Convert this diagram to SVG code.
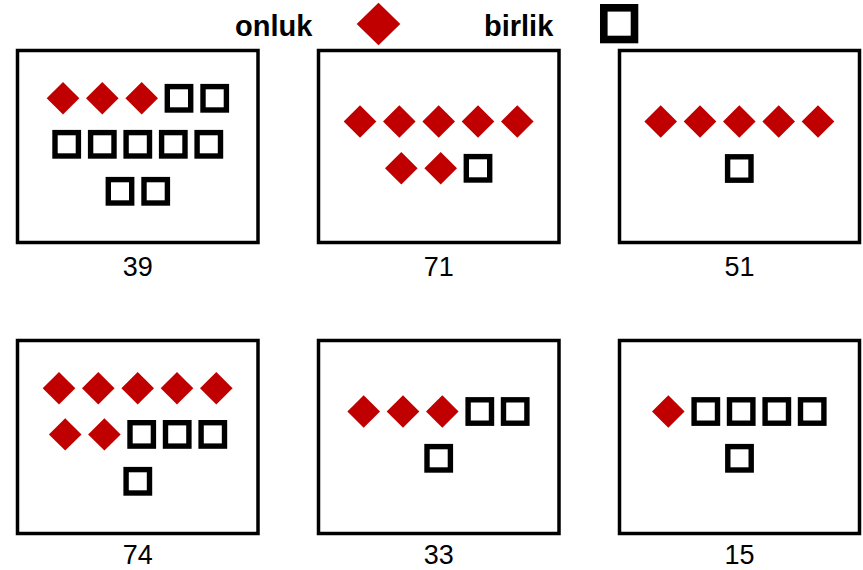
<svg xmlns="http://www.w3.org/2000/svg" xmlns:xlink="http://www.w3.org/1999/xlink" width="863" height="570" viewBox="0 0 863 570">
  <style>
    .box { fill: #ffffff; stroke: #000000; stroke-width: 3.5; }
    .num { font-family: "Liberation Sans", Arial, sans-serif; font-size: 27px; fill: #000000; text-anchor: middle; }
    .head { font-family: "Liberation Sans", Arial, sans-serif; font-size: 29px; font-weight: bold; fill: #000000; }
  </style>
  <defs>
    <polygon id="d" points="0,-16.2 16.3,0 0,16.2 -16.3,0" fill="#C00000"/>
    <rect id="s" x="-11.7" y="-11.7" width="23.4" height="23.4" fill="none" stroke="#000000" stroke-width="5.4"/>
  </defs>
  <rect width="863" height="570" fill="#ffffff"/>

  <g id="legend">
    <text class="head" x="235" y="36">onluk</text>
    <polygon points="378.5,2.7 400.3,24 378.5,45.3 356.7,24" fill="#C00000"/>
    <text class="head" x="484" y="36">birlik</text>
    <rect x="603.8" y="7.8" width="30.7" height="31.7" fill="none" stroke="#000000" stroke-width="7.6"/>
  </g>

  <g id="card-39">
    <rect class="box" x="17.5" y="50.5" width="240.5" height="192"/>
    <use xlink:href="#d" x="63" y="98.3"/>
    <use xlink:href="#d" x="102.3" y="98.3"/>
    <use xlink:href="#d" x="141.7" y="98.3"/>
    <use xlink:href="#s" x="179" y="98.3"/>
    <use xlink:href="#s" x="214.7" y="98.3"/>
    <use xlink:href="#s" x="66.7" y="144.3"/>
    <use xlink:href="#s" x="102.3" y="144.3"/>
    <use xlink:href="#s" x="137.8" y="144.3"/>
    <use xlink:href="#s" x="173.3" y="144.3"/>
    <use xlink:href="#s" x="208.8" y="144.3"/>
    <use xlink:href="#s" x="120" y="191.3"/>
    <use xlink:href="#s" x="155.7" y="191.3"/>
    <text class="num" x="137.8" y="276">39</text>
  </g>

  <g id="card-71">
    <rect class="box" x="318.5" y="50.5" width="240.5" height="192"/>
    <use xlink:href="#d" x="360" y="121.5"/>
    <use xlink:href="#d" x="399.3" y="121.5"/>
    <use xlink:href="#d" x="438.7" y="121.5"/>
    <use xlink:href="#d" x="478" y="121.5"/>
    <use xlink:href="#d" x="517.3" y="121.5"/>
    <use xlink:href="#d" x="401.3" y="168.3"/>
    <use xlink:href="#d" x="440.7" y="168.3"/>
    <use xlink:href="#s" x="478" y="168.3"/>
    <text class="num" x="438.8" y="276">71</text>
  </g>

  <g id="card-51">
    <rect class="box" x="619.5" y="50.5" width="240" height="192"/>
    <use xlink:href="#d" x="660.7" y="121.5"/>
    <use xlink:href="#d" x="700" y="121.5"/>
    <use xlink:href="#d" x="739.3" y="121.5"/>
    <use xlink:href="#d" x="778.7" y="121.5"/>
    <use xlink:href="#d" x="818" y="121.5"/>
    <use xlink:href="#s" x="739.3" y="168.5"/>
    <text class="num" x="739.5" y="276">51</text>
  </g>

  <g id="card-74">
    <rect class="box" x="17.5" y="340.5" width="240.5" height="193"/>
    <use xlink:href="#d" x="59" y="388.2"/>
    <use xlink:href="#d" x="98.3" y="388.2"/>
    <use xlink:href="#d" x="137.7" y="388.2"/>
    <use xlink:href="#d" x="177" y="388.2"/>
    <use xlink:href="#d" x="216.3" y="388.2"/>
    <use xlink:href="#d" x="65.2" y="434.4"/>
    <use xlink:href="#d" x="104.4" y="434.4"/>
    <use xlink:href="#s" x="141.7" y="434.4"/>
    <use xlink:href="#s" x="177.2" y="434.4"/>
    <use xlink:href="#s" x="212.8" y="434.4"/>
    <use xlink:href="#s" x="137.8" y="481.3"/>
    <text class="num" x="137.8" y="564">74</text>
  </g>

  <g id="card-33">
    <rect class="box" x="318.5" y="340.5" width="240.5" height="193"/>
    <use xlink:href="#d" x="363.7" y="411.5"/>
    <use xlink:href="#d" x="403" y="411.5"/>
    <use xlink:href="#d" x="442.3" y="411.5"/>
    <use xlink:href="#s" x="479.8" y="411.5"/>
    <use xlink:href="#s" x="515.2" y="411.5"/>
    <use xlink:href="#s" x="438.7" y="458.3"/>
    <text class="num" x="438.8" y="564">33</text>
  </g>

  <g id="card-15">
    <rect class="box" x="619.5" y="340.5" width="240" height="193"/>
    <use xlink:href="#d" x="668.3" y="411.5"/>
    <use xlink:href="#s" x="705.8" y="411.5"/>
    <use xlink:href="#s" x="741.2" y="411.5"/>
    <use xlink:href="#s" x="776.8" y="411.5"/>
    <use xlink:href="#s" x="812.2" y="411.5"/>
    <use xlink:href="#s" x="739.5" y="458.3"/>
    <text class="num" x="739.5" y="564">15</text>
  </g>

  <g id="connectors"></g>
</svg>
